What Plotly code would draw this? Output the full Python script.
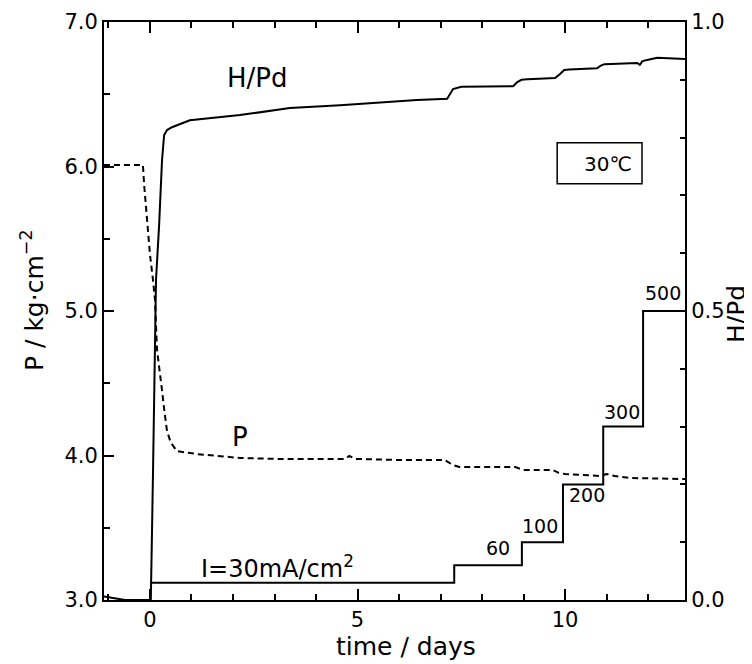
import plotly.graph_objects as go

# ---- data ----
days_h = [-1.11, -0.9, -0.6, 0.0, 0.02, 0.07, 0.145, 0.22, 0.29, 0.34, 0.41, 0.53, 0.96,
          2.17, 3.37, 4.58, 6.43, 7.16, 7.22, 7.3, 7.5, 8.75, 8.85, 8.95, 9.1, 9.76, 9.88,
          9.98, 10.1, 10.77, 10.85, 10.95, 11.74, 11.8, 11.86, 11.95, 12.22, 12.89]
hpd = [0.006, 0.003, 0.0, 0.0, 0.0, 0.208, 0.554, 0.649, 0.761, 0.804, 0.813, 0.818, 0.830,
       0.839, 0.851, 0.856, 0.865, 0.867, 0.874, 0.884, 0.888, 0.889, 0.896, 0.900, 0.901, 0.903, 0.910,
       0.917, 0.918, 0.920, 0.924, 0.927, 0.929, 0.926, 0.932, 0.934, 0.938, 0.936]

days_p = [-1.11, -0.17, -0.14, -0.08, 0.0, 0.07, 0.12, 0.17, 0.24, 0.29, 0.35, 0.41, 0.5,
          0.65, 0.9, 1.13, 2.17, 3.1, 4.7, 4.8, 4.95, 6.0, 7.1, 7.3, 7.45, 8.8, 9.0, 9.7,
          9.85, 10.0, 10.85, 11.0, 11.2, 11.6, 12.89]
pressure = [6.01, 6.01, 5.87, 5.66, 5.39, 5.22, 5.08, 4.73, 4.54, 4.45, 4.30, 4.17, 4.09,
            4.03, 4.02, 4.01, 3.983, 3.976, 3.976, 3.997, 3.976, 3.969, 3.969, 3.934, 3.92, 3.92, 3.90, 3.90,
            3.88, 3.872, 3.858, 3.872, 3.858, 3.844, 3.837]

step_days = [0.0, 7.33, 8.96, 9.95, 10.92, 11.88, 12.89]
current = [30, 60, 100, 200, 300, 500, 500]
step_labels = ["60", "100", "200", "300", "500"]

x_ticks = [0, 5, 10]
p_ticks = [3.0, 4.0, 5.0, 6.0, 7.0]
h_ticks = [0.0, 0.5, 1.0]

FONT = "DejaVu Sans"

fig = go.Figure()
fig.add_trace(go.Scatter(x=days_h, y=hpd, mode="lines", yaxis="y2",
                         line=dict(color="black", width=2), name="H/Pd", showlegend=False))
fig.add_trace(go.Scatter(x=days_p, y=pressure, mode="lines", yaxis="y",
                         line=dict(color="black", width=2, dash="6px,4px"), name="P", showlegend=False))
fig.add_trace(go.Scatter(x=step_days, y=current, mode="lines", yaxis="y3",
                         line=dict(color="black", width=2, shape="hv"), name="I", showlegend=False))

axis_common = dict(showgrid=False, zeroline=False, showline=True, linecolor="black", linewidth=2,
                   ticks="inside", tickcolor="black", tickwidth=1.5, automargin=False,
                   tickfont=dict(family=FONT, size=21, color="black"))

# page body adds an 8px offset, so the figure is 8px smaller and margins shifted
fig.update_layout(
    width=744, height=656,
    margin=dict(l=96, r=67, t=14, b=64),
    paper_bgcolor="white", plot_bgcolor="white",
    xaxis=dict(range=[-1.108, 12.89], tickvals=x_ticks, ticklen=11, mirror="ticks",
               minor=dict(dtick=1, tick0=0, ticklen=6, ticks="inside", tickcolor="black", tickwidth=1.5),
               **axis_common),
    yaxis=dict(range=[3, 7], tickvals=p_ticks, tickformat=".1f", ticklen=10,
               minor=dict(dtick=0.5, tick0=3, ticklen=6, ticks="inside", tickcolor="black", tickwidth=1.5),
               **axis_common),
    yaxis2=dict(range=[0, 1], overlaying="y", side="right", anchor="x",
                tickvals=h_ticks, tickformat=".1f", ticklen=5,
                minor=dict(dtick=0.1, tick0=0, ticklen=5, ticks="inside", tickcolor="black", tickwidth=1.5),
                **axis_common),
    yaxis3=dict(range=[0, 1000], overlaying="y", anchor="x", visible=False),
    showlegend=False,
)

ann = []
def add(text, x, y, xref, yref, size, angle=0, xanchor="center"):
    ann.append(dict(text=text, x=x, y=y, xref=xref, yref=yref, showarrow=False,
                    textangle=angle, xanchor=xanchor, yanchor="middle",
                    font=dict(family=FONT, size=size, color="black")))

# curve labels
add("H/Pd", 2.6, 0.903, "x", "y2", 26)
add("P", 2.17, 4.13, "x", "y", 26)
add("I=30mA/cm<sup>2</sup>", 3.08, 57, "x", "y3", 24)
# step labels
lab_pos = [(8.39, 90), (9.4, 128), (10.53, 182), (11.37, 325), (12.36, 531)]
for t, (lx, ly) in zip(step_labels, lab_pos):
    add(t, lx, ly, "x", "y3", 19)
# temperature box
add("30℃", 0.867, 0.754, "paper", "paper", 20)
fig.add_shape(type="rect", xref="paper", yref="paper", x0=0.780, x1=0.926, y0=0.720, y1=0.791,
              line=dict(color="black", width=1.5))
# axis titles
add("time / days", (406 - 104) / 581, (600 - 646) / 578, "paper", "paper", 25)
add("P / kg·cm<sup>−2</sup>", (32 - 104) / 581, (600 - 300) / 578, "paper", "paper", 25, angle=-90)
add("H/Pd", (736 - 104) / 581, (600 - 314) / 578, "paper", "paper", 25, angle=-90)
fig.update_layout(annotations=ann)

fig.write_html("out.html")
